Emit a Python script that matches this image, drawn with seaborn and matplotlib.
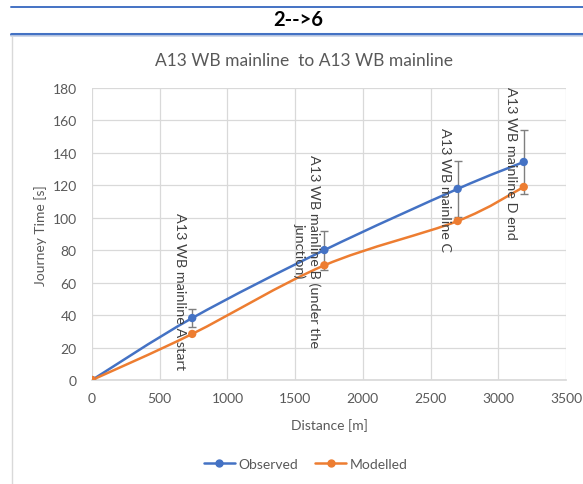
import numpy as np
import pandas as pd
import seaborn as sns
import matplotlib
matplotlib.use("Agg")
import matplotlib.pyplot as plt
from matplotlib.path import Path
from matplotlib.patches import PathPatch
from matplotlib.lines import Line2D

# ---- data ----
distance = [0, 740, 1716, 2700, 3188]
observed = [0, 38.2, 80.1, 117.8, 134.4]
modelled = [0, 28.4, 70.7, 98.0, 119.0]
obs_err = [0, 5.5, 12.0, 17.5, 20.0]
point_labels = ["", "A13 WB mainline A start", "A13 WB mainline B (under the\njunction)",
                "A13 WB mainline C", "A13 WB mainline D end"]
x_ticks = [0, 500, 1000, 1500, 2000, 2500, 3000, 3500]
y_ticks = [0, 20, 40, 60, 80, 100, 120, 140, 160, 180]

BLUE = "#4472C4"
ORANGE = "#ED7D31"
GREY_TXT = "#595959"
GRID = "#D9D9D9"

sns.set_theme(style="white")
plt.rcParams["font.family"] = ["Lato", "DejaVu Sans"]

df = pd.DataFrame({"Distance": distance * 2,
                   "Time": observed + modelled,
                   "Series": ["Observed"] * len(distance) + ["Modelled"] * len(distance)})

fig = plt.figure(figsize=(5.83, 4.85), dpi=100)
ax = fig.add_axes([92 / 583, 1 - 381 / 485, (566 - 92) / 583, (381 - 89) / 485])


def smooth_path(xs, ys):
    """Bezier path through the points, Excel-style smoothing."""
    pts = np.column_stack([xs, ys]).astype(float)
    n = len(pts)
    verts = [pts[0]]
    codes = [Path.MOVETO]
    for i in range(n - 1):
        p0 = pts[max(i - 1, 0)]
        p1 = pts[i]
        p2 = pts[i + 1]
        p3 = pts[min(i + 2, n - 1)]
        c1 = p1 + (p2 - p0) / 6.0
        c2 = p2 - (p3 - p1) / 6.0
        verts += [c1, c2, p2]
        codes += [Path.CURVE4] * 3
    return Path(verts, codes)


for vals, col in [(observed, BLUE), (modelled, ORANGE)]:
    ax.add_patch(PathPatch(smooth_path(distance, vals), facecolor="none",
                           edgecolor=col, lw=1.8, zorder=3, capstyle="round"))

ax.errorbar(distance[1:], observed[1:], yerr=obs_err[1:], fmt="none",
            ecolor="#7F7F7F", elinewidth=1.0, capsize=3, capthick=1.0, zorder=2)

sns.scatterplot(data=df, x="Distance", y="Time", hue="Series",
                palette={"Observed": BLUE, "Modelled": ORANGE},
                s=36, edgecolor="none", zorder=4, ax=ax, legend=False)

# rotated point labels, left of each observed point
y_shift = [0, 28, 0, 0, 0]
x_shift = [0, -12, -17, -13, -13]
for xv, yv, lab, dx, dy in zip(distance, observed, point_labels, x_shift, y_shift):
    if not lab:
        continue
    ax.annotate(lab, xy=(xv, yv), xytext=(dx, dy), textcoords="offset pixels",
                rotation=-90, ha="center", va="center", multialignment="center",
                fontsize=10.4, color="#404040", zorder=5)

ax.set_xlim(0, 3500)
ax.set_ylim(0, 180)
ax.set_xticks(x_ticks)
ax.set_yticks(y_ticks)
ax.grid(True, color=GRID, lw=0.9)
ax.set_axisbelow(True)
for s in ["top", "right", "left"]:
    ax.spines[s].set_visible(False)
ax.spines["bottom"].set_color(GRID)
ax.tick_params(axis="both", colors=GREY_TXT, labelsize=10, length=0)
ax.tick_params(axis="x", pad=9)
ax.tick_params(axis="y", pad=11)
ax.set_xlabel("Distance [m]", color=GREY_TXT, fontsize=10, labelpad=10)
ax.set_ylabel("")

# y-axis title placed at a fixed spot left of the tick labels
fig.text(41 / 583, 1 - 236 / 485, "Journey Time [s]", rotation=90,
         ha="center", va="center", color=GREY_TXT, fontsize=10)

# chart title, centred on the whole chart area
fig.text(304 / 583, 1 - 61 / 485, "A13 WB mainline  to A13 WB mainline",
         ha="center", va="center", color=GREY_TXT, fontsize=12.5)

handles = [Line2D([0], [0], color=BLUE, lw=1.8, marker="o", ms=5),
           Line2D([0], [0], color=ORANGE, lw=1.8, marker="o", ms=5)]
fig.legend(handles, ["Observed", "Modelled"], loc="center",
           bbox_to_anchor=(306 / 583, 1 - 465 / 485), ncol=2, frameon=False,
           fontsize=10, labelcolor=GREY_TXT, handlelength=2.2,
           handletextpad=0.3, columnspacing=1.2)

# sheet header above the chart
fig.add_artist(Line2D([11 / 583, 1], [1 - 7.5 / 485] * 2, color=BLUE, lw=1.4,
                      transform=fig.transFigure))
fig.add_artist(Line2D([11 / 583, 1], [1 - 34.5 / 485] * 2, color=BLUE, lw=2.2,
                      transform=fig.transFigure))
fig.add_artist(Line2D([11 / 583, 1], [1 - 37 / 485] * 2, color="#C9D3E6", lw=1.2,
                      transform=fig.transFigure))
fig.add_artist(Line2D([12 / 583] * 2, [0, 1 - 37 / 485], color=GRID, lw=1.0,
                      transform=fig.transFigure))
fig.text(298 / 583, 1 - 20 / 485, "2-->6", ha="center", va="center",
         fontsize=14.5, fontweight="bold", color="black")

fig.savefig("out.png", dpi=100, facecolor="white")
